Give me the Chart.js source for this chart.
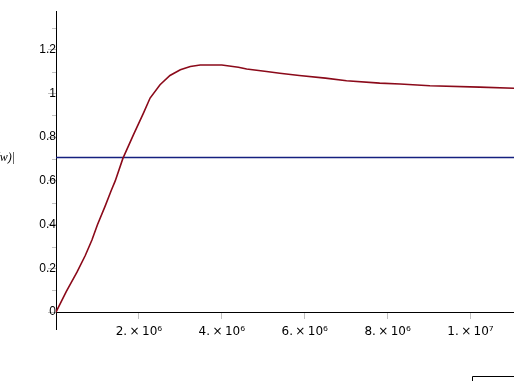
<!DOCTYPE html>
<html>
<head>
<meta charset="utf-8">
<script src="https://cdn.jsdelivr.net/npm/chart.js@4"></script>
<style>
  html, body { margin: 0; padding: 0; background: #fff; }
  #wrap { width: 514px; height: 381px; position: relative; }
</style>
</head>
<body>
<div id="wrap"><canvas id="plot"></canvas></div>
<script>
// frequency (rad/s) and magnitude
const freq = [0, 0.25e6, 0.506e6, 0.706e6, 0.867e6, 1.0e6, 1.188e6, 1.33e6, 1.429e6, 1.614e6,
  1.87e6, 2.11e6, 2.27e6, 2.51e6, 2.75e6, 3.0e6, 3.24e6, 3.48e6, 4.0e6, 4.4e6, 4.6e6,
  5.08e6, 5.4e6, 5.87e6, 6.5e6, 7.01e6, 7.81e6, 8.3e6, 9.02e6, 10.22e6, 11.05e6];
const gain = [0, 0.095, 0.183, 0.259, 0.330, 0.40, 0.486, 0.555, 0.6, 0.703,
  0.812, 0.91, 0.979, 1.04, 1.082, 1.108, 1.123, 1.13, 1.13, 1.12, 1.112,
  1.10, 1.092, 1.082, 1.07, 1.058, 1.047, 1.043, 1.035, 1.029, 1.024];

const cutoff = 0.7071;
const cutoffX = [0, 11.05e6];

const xTicks = [2e6, 4e6, 6e6, 8e6, 1e7];
const yTicks = [0, 0.1, 0.2, 0.3, 0.4, 0.5, 0.6, 0.7, 0.8, 0.9, 1, 1.1, 1.2, 1.3];
const yLabelled = [0, 0.2, 0.4, 0.6, 0.8, 1, 1.2];

const sup = { '6': '⁶', '7': '⁷' };
function sci(v) {
  const e = Math.floor(Math.log10(v) + 1e-9);
  const m = Math.round(v / Math.pow(10, e));
  return m + '.\u2009×\u200910' + sup[e];
}
function isLabelled(v) {
  return yLabelled.some(t => Math.abs(t - v) < 1e-6);
}

// short minor ticks, axis label and the stray corner in the bottom right
const extras = {
  id: 'extras',
  afterDraw(chart) {
    const ctx = chart.ctx;
    const y = chart.scales.y;
    const x0 = chart.scales.x.getPixelForValue(0);
    ctx.save();
    ctx.strokeStyle = '#c0c0c0';
    ctx.lineWidth = 1;
    yTicks.forEach(v => {
      if (isLabelled(v)) return;
      const py = Math.round(y.getPixelForValue(v)) + 0.5;
      ctx.beginPath();
      ctx.moveTo(x0 - 4, py);
      ctx.lineTo(x0, py);
      ctx.stroke();
    });
    ctx.fillStyle = '#000';
    ctx.font = 'italic 12px "Liberation Serif"';
    ctx.textAlign = 'right';
    ctx.textBaseline = 'middle';
    ctx.fillText('|H(w)|', 15, 158);
    ctx.strokeStyle = '#000';
    ctx.beginPath();
    ctx.moveTo(472.5, 381);
    ctx.lineTo(472.5, 376.5);
    ctx.lineTo(514, 376.5);
    ctx.stroke();
    ctx.restore();
  }
};

new Chart(document.getElementById('plot'), {
  type: 'line',
  data: {
    datasets: [{
      data: freq.map((f, i) => ({ x: f, y: gain[i] })),
      borderColor: '#8b0a1a',
      borderWidth: 1.6,
      pointRadius: 0,
      tension: 0,
      fill: false
    }, {
      data: cutoffX.map(f => ({ x: f, y: cutoff })),
      borderColor: '#15207f',
      borderWidth: 1.6,
      pointRadius: 0,
      fill: false
    }]
  },
  options: {
    responsive: true,
    maintainAspectRatio: false,
    animation: false,
    layout: { padding: { left: 56, top: 9, right: 0, bottom: 52 } },
    plugins: { legend: { display: false }, tooltip: { enabled: false } },
    scales: {
      x: {
        type: 'linear',
        position: { y: 0 },
        min: 0,
        max: 11.05e6,
        afterBuildTicks: s => { s.ticks = xTicks.map(v => ({ value: v })); },
        border: { color: '#000', width: 1 },
        grid: { drawOnChartArea: false, tickLength: 6, tickColor: '#c0c0c0' },
        ticks: {
          color: '#000',
          font: { family: '"DejaVu Sans"', size: 12 },
          padding: 7,
          maxRotation: 0,
          autoSkip: false,
          callback: v => sci(v)
        }
      },
      y: {
        type: 'linear',
        position: { x: 0 },
        min: -0.077,
        max: 1.376,
        afterBuildTicks: s => { s.ticks = yTicks.map(v => ({ value: v })); },
        border: { color: '#000', width: 1 },
        grid: {
          drawOnChartArea: false,
          tickLength: 8,
          tickColor: c => isLabelled(c.tick.value) ? '#c0c0c0' : 'rgba(0,0,0,0)'
        },
        ticks: {
          color: '#000',
          font: { family: '"Liberation Sans"', size: 12 },
          padding: 4,
          autoSkip: false,
          callback: v => isLabelled(v) ? String(Math.round(v * 10) / 10) : ''
        }
      }
    }
  },
  plugins: [extras]
});
</script>
</body>
</html>
